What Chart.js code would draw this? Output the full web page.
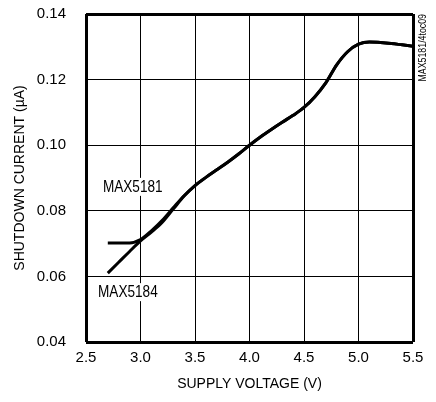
<!DOCTYPE html>
<html>
<head>
<meta charset="utf-8">
<script src="https://cdn.jsdelivr.net/npm/chart.js@4/dist/chart.umd.min.js"></script>
<style>
  html, body { margin: 0; padding: 0; background: #fff; }
  #wrap { width: 436px; height: 402px; }
</style>
</head>
<body>
<div id="wrap"><canvas id="chart" width="436" height="402"></canvas></div>
<script>
// supply voltage (V)
var voltage = [2.7, 2.8, 2.9, 3.0, 3.1, 3.2, 3.3, 3.4, 3.5, 3.6, 3.7, 3.8, 3.9, 4.0, 4.1, 4.2, 4.3, 4.4, 4.5, 4.6, 4.7, 4.8, 4.9, 5.0, 5.1, 5.2, 5.3, 5.4, 5.5];
// shutdown current (uA)
var max5184 = [0.0610, 0.0643, 0.0676, 0.0708, 0.0735, 0.0765, 0.0805, 0.0845, 0.0877, 0.0902, 0.0925, 0.0948, 0.0973, 0.1000, 0.1025, 0.1048, 0.1070, 0.1091, 0.1115, 0.1148, 0.1190, 0.1245, 0.1285, 0.1308, 0.1315, 0.1313, 0.1310, 0.1306, 0.1302];
var max5181 = [0.0702, 0.0702, 0.0702, 0.0712, 0.0739, 0.0771, 0.0809, 0.0846, 0.0877, 0.0902, 0.0925, 0.0948, 0.0973, 0.1000, 0.1025, 0.1048, 0.1070, 0.1091, 0.1115, 0.1148, 0.1190, 0.1245, 0.1285, 0.1308, 0.1315, 0.1313, 0.1310, 0.1306, 0.1302];

var xTicks = [2.5, 3.0, 3.5, 4.0, 4.5, 5.0, 5.5];
var yTicks = [0.04, 0.06, 0.08, 0.10, 0.12, 0.14];

// curve labels: [text, x value, y value]
var curveLabels = [["MAX5181", 2.655, 0.0873], ["MAX5184", 2.61, 0.0552]];

var FONT = "'Liberation Sans', Arial, sans-serif";

function pts(ys) {
  return voltage.map(function(v, i) { return {x: v, y: ys[i]}; });
}

function edgeWidth(ctx) {
  var n = ctx.scale.ticks.length;
  return (ctx.index === 0 || ctx.index === n - 1) ? 3 : 1;
}

// draws condensed text (no narrow font installed)
function narrowText(c, txt, x, y, size) {
  c.save();
  c.translate(x, y);
  c.scale(0.8, 1);
  c.font = size + "px " + FONT;
  c.fillText(txt, 0, 0);
  c.restore();
}

//LABELS + SIDE NOTE//
var labelPlugin = {
  id: 'labels',
  afterDatasetsDraw: function(chart) {
    var c = chart.ctx;
    var xs = chart.scales.x, ys = chart.scales.y;
    c.save();
    c.textBaseline = 'middle';
    c.textAlign = 'left';
    curveLabels.forEach(function(l) {
      var px = xs.getPixelForValue(l[1]);
      var py = ys.getPixelForValue(l[2]);
      c.font = "17px " + FONT;
      var w = c.measureText(l[0]).width * 0.8;
      c.fillStyle = '#fff';
      c.fillRect(px - 3, py - 9, w + 5, 18);
      c.fillStyle = '#000';
      narrowText(c, l[0], px, py, 17);
    });
    // part number note on right edge
    c.translate(chart.chartArea.right + 10, chart.chartArea.top);
    c.rotate(-Math.PI / 2);
    c.textAlign = 'right';
    narrowText(c, "MAX5181/4toc09", 0, 0, 11);
    c.restore();
  }
};

var ctx = document.getElementById("chart");
var chart = new Chart(ctx, {
  type: 'line',
  data: {
    datasets: [{
      label: 'MAX5181',
      data: pts(max5181),
      borderColor: '#000',
      borderWidth: 3,
      pointRadius: 0,
      cubicInterpolationMode: 'monotone'
    }, {
      label: 'MAX5184',
      data: pts(max5184),
      borderColor: '#000',
      borderWidth: 3,
      pointRadius: 0,
      cubicInterpolationMode: 'monotone'
    }]
  },
  options: {
    responsive: false,
    animation: false,
    layout: { padding: { left: 0, top: 14, right: 23, bottom: 0 } },
    plugins: { legend: { display: false }, tooltip: { enabled: false } },
    scales: {
      x: {
        type: 'linear',
        min: 2.5, max: 5.5,
        afterBuildTicks: function(s) { s.ticks = xTicks.map(function(v) { return {value: v}; }); },
        afterFit: function(s) { s.height = 60; },
        border: { display: false },
        grid: { color: '#000', lineWidth: edgeWidth, drawTicks: false },
        ticks: {
          color: '#000', padding: 7, maxRotation: 0,
          font: { family: FONT, size: 15 },
          callback: function(v) { return v.toFixed(1); }
        },
        title: {
          display: true, text: 'SUPPLY VOLTAGE (V)', color: '#000',
          font: { family: FONT, size: 14 }, padding: { top: 0, bottom: 9 }
        }
      },
      y: {
        min: 0.04, max: 0.14,
        afterBuildTicks: function(s) { s.ticks = yTicks.map(function(v) { return {value: v}; }); },
        afterFit: function(s) { s.width = 86; },
        border: { display: false },
        // invisible ticks give the label gap without adding top padding
        grid: { color: '#000', lineWidth: edgeWidth, drawTicks: true, tickLength: 17, tickColor: 'rgba(0,0,0,0)' },
        ticks: {
          color: '#000', padding: 3,
          font: { family: FONT, size: 15 },
          callback: function(v) { return v.toFixed(2); }
        },
        title: {
          display: true, text: 'SHUTDOWN CURRENT (\u00B5A)', color: '#000',
          font: { family: FONT, size: 14 }, padding: { top: 12, bottom: 0 }
        }
      }
    }
  },
  plugins: [labelPlugin]
});
</script>
</body>
</html>
